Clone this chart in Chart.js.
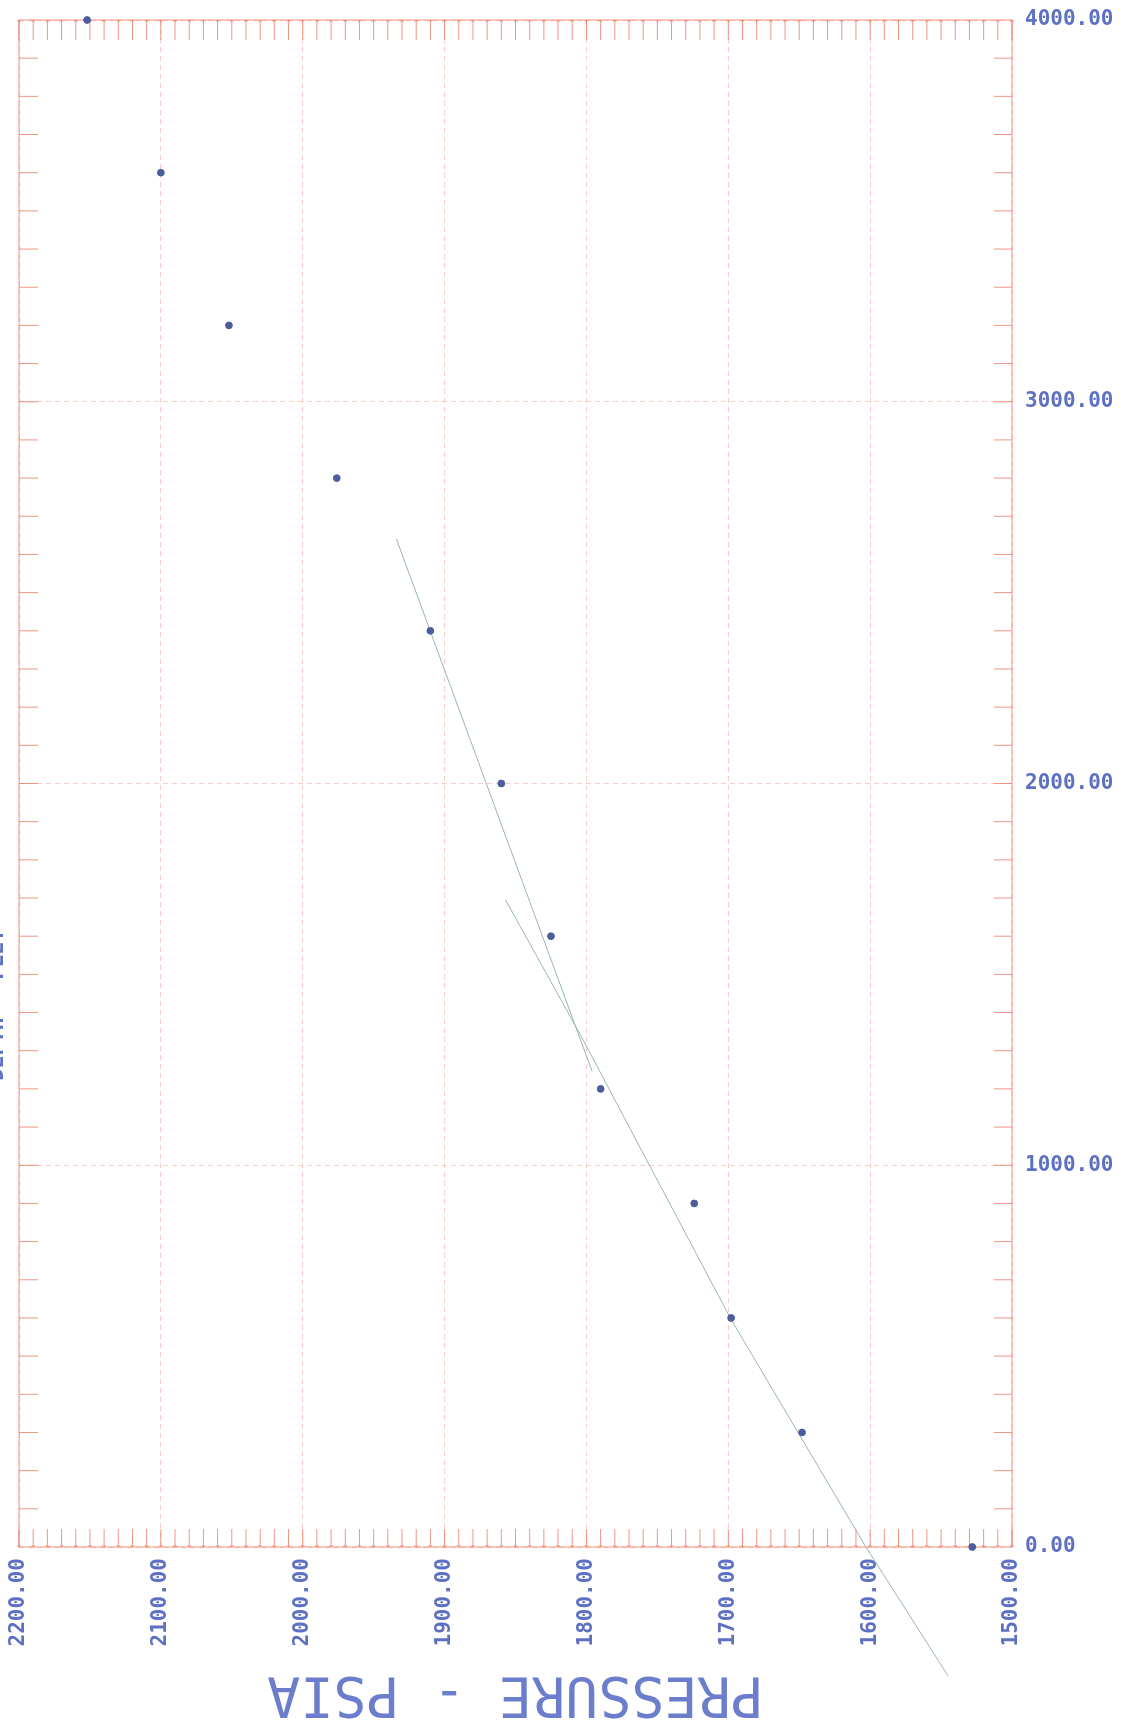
<!DOCTYPE html>
<html>
<head>
<meta charset="utf-8">
<script src="https://cdn.jsdelivr.net/npm/chart.js@4"></script>
<style>
  body { margin: 0; background: #ffffff; }
  canvas { display: block; }
</style>
</head>
<body>
<canvas id="chart" width="1131" height="1731"></canvas>
<script>
// measured points: pressure (psia) against depth (ft)
const depthFt = [4000, 3600, 3200, 2800, 2400, 2000, 1600, 1200, 900, 600, 300, 0];
const pressurePsia = [2152, 2100, 2052, 1976, 1910, 1860, 1825, 1790, 1724, 1698, 1648, 1528];

// hand drawn trend lines
const upperTrendP = [1934, 1796];
const upperTrendD = [2641, 1246];
const lowerTrendP = [1857, 1803, 1698, 1603, 1545];
const lowerTrendD = [1695, 1333, 596, 0, -338];

const xTickStep = 100;
const yTickStep = 1000;

const blue = "#5d70c2";
const red = "rgba(236,122,100,0.8)";

const toXY = (xs, ys) => xs.map((x, i) => ({ x: x, y: ys[i] }));

// frame, minor ticks and the upside-down axis title
const plotterFrame = {
  id: "plotterFrame",
  beforeDatasetsDraw(chart) {
    const { ctx, chartArea: a, scales } = chart;
    const xs = scales.x, ys = scales.y;
    ctx.save();
    ctx.strokeStyle = red;
    ctx.lineWidth = 1;
    ctx.strokeRect(a.left, a.top, a.right - a.left, a.bottom - a.top);

    ctx.beginPath();
    for (let p = 1500; p <= 2200; p += 10) {
      const px = xs.getPixelForValue(p);
      ctx.moveTo(px, a.top); ctx.lineTo(px, a.top + 20);
      ctx.moveTo(px - 2, a.top + 1); ctx.lineTo(px + 2, a.top + 1);
      ctx.moveTo(px, a.bottom); ctx.lineTo(px, a.bottom - 18);
      ctx.moveTo(px - 2, a.bottom - 1); ctx.lineTo(px + 2, a.bottom - 1);
    }
    for (let d = 100; d < 4000; d += 100) {
      const py = ys.getPixelForValue(d);
      ctx.moveTo(a.left, py); ctx.lineTo(a.left + 19, py);
      ctx.moveTo(a.right, py); ctx.lineTo(a.right - 18, py);
    }
    ctx.stroke();
    ctx.restore();
  },
  afterDraw(chart) {
    const { ctx, chartArea: a } = chart;
    ctx.save();
    ctx.fillStyle = "#6c7ecb";
    ctx.font = "55px 'DejaVu Sans Mono'";
    ctx.textAlign = "center";
    ctx.textBaseline = "middle";
    ctx.translate((a.left + a.right) / 2, 1692);
    ctx.rotate(Math.PI);
    ctx.fillText("PRESSURE - PSIA", 0, 0);
    ctx.restore();

    // left title sits mostly off the sheet
    ctx.save();
    ctx.fillStyle = blue;
    ctx.font = "bold 21px 'DejaVu Sans Mono'";
    ctx.textAlign = "center";
    ctx.textBaseline = "middle";
    ctx.translate(-2, 1005);
    ctx.rotate(-Math.PI / 2);
    ctx.fillText("DEPTH - FEET", 0, 0);
    ctx.restore();
  }
};

const ctx = document.getElementById("chart").getContext("2d");

new Chart(ctx, {
  type: "scatter",
  data: {
    datasets: [
      {
        label: "Measured",
        data: toXY(pressurePsia, depthFt),
        backgroundColor: "#4c5c9c",
        borderColor: "#4c5c9c",
        pointRadius: 3.4,
        clip: false
      },
      {
        label: "Upper trend",
        data: toXY(upperTrendP, upperTrendD),
        showLine: true,
        borderColor: "#9ab6b0",
        borderWidth: 1,
        pointRadius: 0,
        clip: false
      },
      {
        label: "Lower trend",
        data: toXY(lowerTrendP, lowerTrendD),
        showLine: true,
        borderColor: "#9ab6b0",
        borderWidth: 1,
        pointRadius: 0,
        clip: false
      }
    ]
  },
  options: {
    responsive: false,
    animation: false,
    layout: { padding: { left: 19, top: 20, right: 0, bottom: 0 } },
    plugins: {
      legend: { display: false },
      tooltip: { enabled: false }
    },
    scales: {
      x: {
        type: "linear",
        reverse: true,
        min: 1500,
        max: 2200,
        afterFit: (s) => { s.height = 184; },
        border: { display: false, dash: [5, 4] },
        grid: { color: "rgba(238,134,114,0.4)", lineWidth: 1, drawTicks: false },
        ticks: {
          stepSize: xTickStep,
          minRotation: 90,
          maxRotation: 90,
          padding: 11,
          color: blue,
          font: { family: "'DejaVu Sans Mono'", size: 21, weight: "bold" },
          callback: (v) => Number(v).toFixed(2)
        }
      },
      y: {
        type: "linear",
        position: "right",
        min: 0,
        max: 4000,
        afterFit: (s) => { s.width = 119; s.paddingTop = 0; s.paddingBottom = 0; },
        border: { display: false, dash: [5, 4] },
        grid: { color: "rgba(238,134,114,0.4)", lineWidth: 1, drawTicks: false },
        ticks: {
          stepSize: yTickStep,
          padding: 13,
          color: blue,
          font: { family: "'DejaVu Sans Mono'", size: 21, weight: "bold" },
          callback: (v) => Number(v).toFixed(2)
        }
      }
    }
  },
  plugins: [plotterFrame]
});
</script>
</body>
</html>
